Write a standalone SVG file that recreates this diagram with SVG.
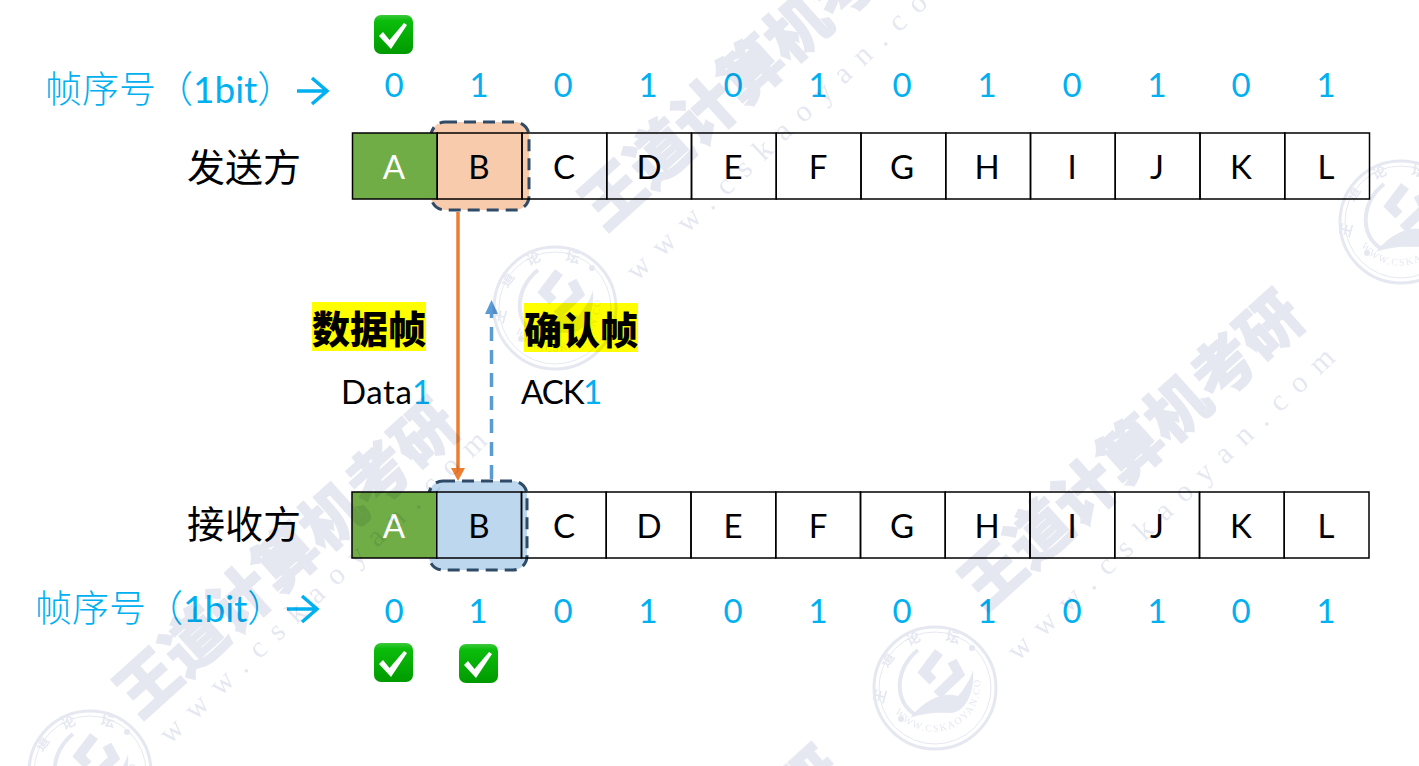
<svg xmlns="http://www.w3.org/2000/svg" width="1419" height="766" viewBox="0 0 1419 766">
<style>
.wm{font-family:"Noto Sans CJK SC",sans-serif;font-weight:900;font-size:62px;fill:#e6e8f1;stroke:#e6e8f1;stroke-width:1.5}
.url{font-family:"Liberation Serif",serif;font-size:30px;fill:#e6e8f1;letter-spacing:13.2px}
.seal{fill:none;stroke:#e6e8f1}
.st{font-family:"Noto Sans CJK SC",sans-serif;font-size:14px;font-weight:700;fill:#e6e8f1}
.su{font-family:"Liberation Serif",serif;font-size:10px;fill:#e6e8f1;letter-spacing:1.6px}
.cell{fill:none;stroke:#000;stroke-width:1.5}
.t{font-family:Lato,"Noto Sans CJK SC",sans-serif;font-size:33px;text-anchor:middle;fill:#000}
.n{font-family:Lato,sans-serif;font-size:33px;text-anchor:middle;fill:#00b0f0}
.zh{font-family:"Noto Sans CJK SC",sans-serif;font-size:38px;font-weight:400;fill:#000}
.zb{font-family:"Noto Sans CJK SC",sans-serif;font-size:38px;font-weight:900;fill:#000}
.blue{font-family:"Noto Sans CJK SC",sans-serif;font-size:37px;fill:#00b0f0;font-weight:300}
.bit{font-family:Lato,sans-serif;font-weight:400}
.lab{font-family:Lato,sans-serif;font-size:33px;fill:#000}
.win{stroke:#2f4b68;stroke-width:3;stroke-dasharray:12 7}
.ar{fill:none;stroke:#00b0f0;stroke-width:3.5}
</style>
<defs>
<linearGradient id="g" x1="0" y1="0" x2="0" y2="1"><stop offset="0" stop-color="#3cc93c"/><stop offset="0.15" stop-color="#0bbd0b"/><stop offset="1" stop-color="#009a00"/></linearGradient>
<g id="chk"><rect x="0" y="0" width="39" height="39" rx="7" fill="url(#g)"/><path d="M5 21 L9 17 L15.500 25 L30 8 L33 10 L17 34 Z" fill="#fff"/></g>
<path id="sr" d="M-40 24 A47 47 0 0 0 44 -14" fill="none"/>
<g id="seal"><circle r="61" class="seal" stroke-width="3"/><circle r="56" class="seal" stroke-width="1"/>
<path d="M-17 -38 C-40 -20 -42 14 -19 27" class="seal" stroke-width="4"/>
<path d="M4 -36 L-11 -16 L-2 -7 M17 -27 L24 -14 L2 7" class="seal" stroke-width="10"/>
<path d="M-25 30 C-5 5 15 5 23 8 C30 0 36 -10 38 -18 C40 5 30 25 15 25 C0 24 -15 26 -25 30Z" fill="#e6e8f1"/>
<circle cx="37" cy="-40" r="3" fill="#e6e8f1"/><circle cx="-34" cy="31" r="3" fill="#e6e8f1"/>
<text class="st" transform="translate(-52 16) rotate(-75)">王</text><text class="st" transform="translate(-48 -20) rotate(-55)">道</text><text class="st" transform="translate(-26 -42) rotate(-25)">论</text><text class="st" transform="translate(10 -47) rotate(10)">坛</text>
<text class="su"><textPath href="#sr">WWW.CSKAOYAN.COM</textPath></text></g>
</defs>
<rect width="1419" height="766" fill="#fff"/>
<g id="sender-label"><text class="zh" x="187" y="181">发送方</text></g>
<g id="receiver-label"><text class="zh" x="187" y="538">接收方</text></g>
<g id="seq-top"><text class="blue" x="45" y="103">帧序号（<tspan class="bit">1bit</tspan>）</text><path class="ar" d="M297 91H326M312 78L327 91L312 104"/></g>
<g id="seq-bottom"><text class="blue" x="35" y="622">帧序号（<tspan class="bit">1bit</tspan>）</text><path class="ar" d="M287 609H316M302 596L317 609L302 622"/></g>
<g id="seq-top-nums">
<text class="n" x="394" y="97">0</text><text class="n" x="479" y="97">1</text><text class="n" x="563" y="97">0</text><text class="n" x="648" y="97">1</text><text class="n" x="733" y="97">0</text><text class="n" x="818" y="97">1</text><text class="n" x="902" y="97">0</text><text class="n" x="987" y="97">1</text><text class="n" x="1072" y="97">0</text><text class="n" x="1157" y="97">1</text><text class="n" x="1241" y="97">0</text><text class="n" x="1326" y="97">1</text>
</g>
<g id="seq-bottom-nums">
<text class="n" x="394" y="623">0</text><text class="n" x="478" y="623">1</text><text class="n" x="563" y="623">0</text><text class="n" x="648" y="623">1</text><text class="n" x="733" y="623">0</text><text class="n" x="818" y="623">1</text><text class="n" x="902" y="623">0</text><text class="n" x="987" y="623">1</text><text class="n" x="1072" y="623">0</text><text class="n" x="1157" y="623">1</text><text class="n" x="1241" y="623">0</text><text class="n" x="1326" y="623">1</text>
</g>
<g id="sender-window"><rect class="win" x="431" y="122" width="98" height="88" rx="14" fill="#f8cbad"/></g>
<g id="receiver-window"><rect class="win" x="429" y="481" width="98" height="89" rx="14" fill="#bdd7ee"/></g>
<g id="sender-row">
<rect class="cell" x="352.500" y="133" width="84.750" height="66" style="fill:#70ad47"/>
<rect class="cell" x="437.250" y="133" width="84.750" height="66" style="fill:#f8cbad"/>
<rect class="cell" x="522" y="133" width="84.750" height="66"/>
<rect class="cell" x="606.750" y="133" width="84.750" height="66"/>
<rect class="cell" x="691.500" y="133" width="84.750" height="66"/>
<rect class="cell" x="776.250" y="133" width="84.750" height="66"/>
<rect class="cell" x="861" y="133" width="84.750" height="66"/>
<rect class="cell" x="945.750" y="133" width="84.750" height="66"/>
<rect class="cell" x="1030.500" y="133" width="84.750" height="66"/>
<rect class="cell" x="1115.250" y="133" width="84.750" height="66"/>
<rect class="cell" x="1200" y="133" width="84.750" height="66"/>
<rect class="cell" x="1284.750" y="133" width="84.750" height="66"/>
<text class="t" x="394" y="179" style="fill:#fff">A</text><text class="t" x="479" y="179">B</text><text class="t" x="564" y="179">C</text><text class="t" x="649" y="179">D</text><text class="t" x="733" y="179">E</text><text class="t" x="818" y="179">F</text><text class="t" x="902" y="179">G</text><text class="t" x="987" y="179">H</text><text class="t" x="1072" y="179">I</text><text class="t" x="1157" y="179">J</text><text class="t" x="1241" y="179">K</text><text class="t" x="1326" y="179">L</text>
</g>
<g id="receiver-row">
<rect class="cell" x="352" y="492" width="84.750" height="66" style="fill:#70ad47"/>
<rect class="cell" x="436.750" y="492" width="84.750" height="66" style="fill:#bdd7ee"/>
<rect class="cell" x="521.500" y="492" width="84.750" height="66"/>
<rect class="cell" x="606.250" y="492" width="84.750" height="66"/>
<rect class="cell" x="691" y="492" width="84.750" height="66"/>
<rect class="cell" x="775.750" y="492" width="84.750" height="66"/>
<rect class="cell" x="860.500" y="492" width="84.750" height="66"/>
<rect class="cell" x="945.250" y="492" width="84.750" height="66"/>
<rect class="cell" x="1030" y="492" width="84.750" height="66"/>
<rect class="cell" x="1114.750" y="492" width="84.750" height="66"/>
<rect class="cell" x="1199.500" y="492" width="84.750" height="66"/>
<rect class="cell" x="1284.250" y="492" width="84.750" height="66"/>
<text class="t" x="394" y="538" style="fill:#fff">A</text><text class="t" x="479" y="538">B</text><text class="t" x="564" y="538">C</text><text class="t" x="649" y="538">D</text><text class="t" x="733" y="538">E</text><text class="t" x="818" y="538">F</text><text class="t" x="902" y="538">G</text><text class="t" x="987" y="538">H</text><text class="t" x="1072" y="538">I</text><text class="t" x="1157" y="538">J</text><text class="t" x="1241" y="538">K</text><text class="t" x="1326" y="538">L</text>
</g>
<g id="connectors">
<path d="M458 212V468" stroke="#ed7d31" stroke-width="3.500" fill="none"/><path d="M451 468H465L458 481Z" fill="#ed7d31"/>
<path d="M491.500 479V314" stroke="#5b9bd5" stroke-width="3.500" stroke-dasharray="14 9" fill="none"/><path d="M485 314H498L491.500 300Z" fill="#5b9bd5"/>
</g>
<g id="data-label"><rect x="312" y="302" width="114" height="49" fill="#ff0"/><text class="zb" x="312" y="343">数据帧</text><text class="lab" x="341" y="404" letter-spacing="0.6">Data<tspan fill="#00b0f0" x="412">1</tspan></text></g>
<g id="ack-label"><rect x="524" y="303" width="114" height="49" fill="#ff0"/><text class="zb" x="524" y="344">确认帧</text><text class="lab" x="521" y="404" letter-spacing="-1">ACK<tspan fill="#00b0f0" x="583">1</tspan></text></g>
<g id="check-1"><use href="#chk" x="374" y="15"/></g>
<g id="check-2"><use href="#chk" x="374" y="643"/></g>
<g id="check-3"><use href="#chk" x="459" y="644"/></g>
<g id="watermark" style="mix-blend-mode:multiply">
<text class="wm" transform="translate(140 720) rotate(-42)">王道计算机考研</text>
<text class="url" transform="translate(170 745) rotate(-43.5)">www.cskaoyan.com</text>
<text class="wm" transform="translate(605 232) rotate(-42)">王道计算机考研</text>
<text class="url" transform="translate(637 282) rotate(-43.5)">www.cskaoyan.com</text>
<text class="wm" transform="translate(985 612) rotate(-42)">王道计算机考研</text>
<text class="url" transform="translate(1018 662) rotate(-43.5)">www.cskaoyan.com</text>
<text class="wm" transform="translate(525 1068) rotate(-42)">王道计算机考研</text>
<use href="#seal" x="555" y="308"/><use href="#seal" x="90" y="772"/><use href="#seal" x="935" y="688"/><use href="#seal" x="1401" y="222"/>
</g>
</svg>
